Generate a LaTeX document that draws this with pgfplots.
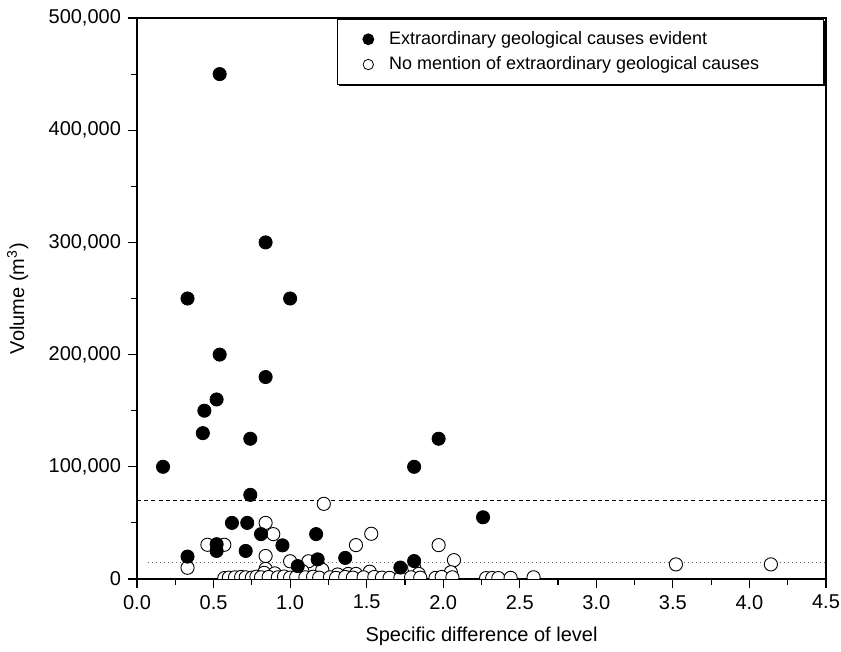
\documentclass[border=0pt]{standalone}
\usepackage{pgfplots}
\pgfplotsset{compat=1.18}
\usepackage{pgfplotstable}
\usepackage{fontspec}
\setmainfont{Liberation Sans}
\usetikzlibrary{shadows}

\pgfplotsset{mylegimg/.style={legend image code/.code={\path (-9pt,0pt) (8pt,0pt); \draw[##1] plot coordinates {(0pt,0pt)};}}}

\pgfplotstableread{
x y
0.17 100000
0.33 250000
0.33 20000
0.43 130000
0.44 150000
0.52 160000
0.54 200000
0.54 450000
0.52 31000
0.52 25000
0.62 50000
0.72 50000
0.71 25000
0.74 125000
0.74 75000
0.81 40000
0.84 300000
0.84 180000
0.95 30000
1.00 250000
1.05 11500
1.17 40000
1.18 17500
1.36 18800
1.72 10200
1.81 100000
1.81 16000
1.97 125000
2.26 55000
}\filled

\pgfplotstableread{
x y
0.33 10000
0.46 30500
0.57 30500
0.84 50000
0.89 40000
0.84 20500
0.84 9000
0.83 5500
0.90 5000
1.00 15800
1.12 15800
1.08 7000
1.21 8200
1.22 67000
1.53 40300
1.43 30200
1.52 6500
1.38 4500
1.43 4500
1.31 4000
1.81 10300
1.84 4500
1.97 30200
2.07 16800
2.05 6000
3.52 13000
4.14 13000
0.57 800
0.60 1200
0.64 1500
0.68 1800
0.71 1500
0.75 1200
0.78 2000
0.81 1500
0.86 1800
0.92 1500
0.96 2200
1.00 1200
1.04 1800
1.10 1500
1.15 2000
1.19 1200
1.26 1500
1.30 1000
1.36 1800
1.41 1200
1.48 1500
1.55 1800
1.60 1200
1.65 1000
1.72 800
1.79 1500
1.85 1200
1.95 1000
1.99 1800
2.06 1500
2.28 800
2.32 900
2.36 800
2.44 1000
2.59 1500
}\opened

\begin{document}
\begin{tikzpicture}
\useasboundingbox (-68.5pt,-36.5pt) rectangle (352pt,289.5pt);
\begin{axis}[
  scale only axis, width=344.5pt, height=280.5pt,
  xmin=0, xmax=4.5, ymin=0, ymax=500000,
  xtick={0,0.5,1,1.5,2,2.5,3,3.5,4,4.5}, minor x tick num=1,
  ytick={0,100000,200000,300000,400000,500000}, minor y tick num=1,
  tick align=outside, tick pos=left,
  major tick length=4.5pt, minor tick length=3pt,
  scaled y ticks=false,
  /pgf/number format/assume math mode=true,
  xticklabel style={/pgf/number format/.cd, fixed, fixed zerofill, precision=1},
  yticklabel style={/pgf/number format/.cd, fixed, 1000 sep={,}},
  tick label style={font=\fontsize{10}{12}\selectfont},
  label style={font=\fontsize{10}{12}\selectfont},
  xlabel={Specific difference of level},
  ylabel={Volume (m\textsuperscript{3})},
  xlabel style={at={(axis description cs:0.5,-0.1016)}, anchor=center},
  ylabel style={at={(axis description cs:-0.173,0.5)}, anchor=center},
  axis line style={line width=0.8pt},
  tick style={line width=0.6pt, black},
  clip marker paths=true,
  legend cell align=left,
  legend style={at={(rel axis cs:0.997,0.999)}, anchor=north east,
    draw=black, line width=0.7pt, fill=white,
    font=\fontsize{9}{11}\selectfont,
    inner xsep=6pt, inner ysep=4pt, row sep=0.6pt,
    drop shadow={shadow xshift=0.8pt, shadow yshift=-0.8pt, fill=black, opacity=1}},
]
\addplot[forget plot, black, line width=0.6pt, dash pattern=on 2pt off 1.6pt] coordinates {(0,70000) (4.5,70000)};
\addplot[forget plot, black!60, line width=0.5pt, dash pattern=on 0.5pt off 1.5pt] coordinates {(0.07,15000) (4.5,15000)};
\addplot[forget plot, only marks, mark=*, mark size=3.3pt, mark options={fill=white, draw=black, line width=0.45pt}] table[x=x,y=y] {\opened};
\addplot[forget plot, only marks, mark=*, mark size=3.3pt, mark options={fill=black, draw=black}] table[x=x,y=y] {\filled};
\addlegendimage{mylegimg, only marks, mark=*, mark size=2.6pt, mark options={fill=black, draw=black}}
\addlegendentry{Extraordinary geological causes evident}
\addlegendimage{mylegimg, only marks, mark=*, mark size=2.6pt, mark options={fill=white, draw=black, line width=0.4pt}}
\addlegendentry{No mention of extraordinary geological causes\hspace*{24pt}}
\end{axis}
\end{tikzpicture}
\end{document}
